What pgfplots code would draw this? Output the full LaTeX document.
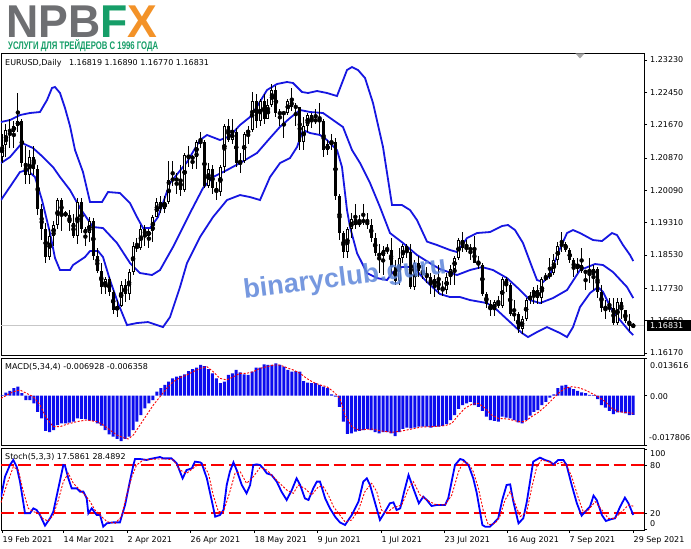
\documentclass[border=0pt]{standalone}
\usepackage{fontspec}
\setmainfont{DejaVu Sans}
\newfontfamily\lsans{Liberation Sans}
\usepackage{graphicx}
\usepackage{pgfplots}
\usepackage{pgfplotstable}
\pgfplotsset{compat=1.18}

\definecolor{bbblue}{RGB}{22,22,225}
\definecolor{histblue}{RGB}{12,12,238}
\definecolor{lvlred}{RGB}{250,0,0}
\definecolor{npgray}{RGB}{110,111,114}
\definecolor{npgreen}{RGB}{22,158,104}
\definecolor{nporange}{RGB}{243,146,40}
\definecolor{wmblue}{RGB}{95,135,218}

% EURUSD daily candles, bar index 0 = 19 Feb 2021 ... 159 = 29 Sep 2021
\pgfplotstableread{
i O H L C
0 1.2090 1.2145 1.2075 1.2118
1 1.2118 1.2170 1.2090 1.2155
2 1.2155 1.2180 1.2110 1.2150
3 1.2150 1.2175 1.2110 1.2165
4 1.2165 1.2243 1.2150 1.2175
5 1.2175 1.2182 1.2065 1.2075
6 1.2075 1.2115 1.2025 1.2045
7 1.2045 1.2105 1.2025 1.2090
8 1.2090 1.2115 1.2045 1.2060
9 1.2060 1.2070 1.1950 1.1965
10 1.1965 1.1975 1.1890 1.1915
11 1.1915 1.1930 1.1835 1.1848
12 1.1848 1.1915 1.1840 1.1900
13 1.1900 1.1935 1.1875 1.1925
14 1.1925 1.1990 1.1915 1.1985
15 1.1985 1.1990 1.1910 1.1950
16 1.1952 1.1958 1.1945 1.1950
17 1.1950 1.1962 1.1910 1.1930
18 1.1930 1.1952 1.1895 1.1900
19 1.1900 1.1990 1.1880 1.1980
20 1.1980 1.1990 1.1905 1.1915
21 1.1915 1.1920 1.1875 1.1905
22 1.1905 1.1945 1.1885 1.1935
23 1.1935 1.1942 1.1840 1.1850
24 1.1850 1.1870 1.1810 1.1815
25 1.1815 1.1835 1.1760 1.1775
26 1.1775 1.1800 1.1760 1.1795
27 1.1795 1.1800 1.1755 1.1765
28 1.1765 1.1770 1.1712 1.1720
29 1.1720 1.1745 1.1704 1.1730
30 1.1730 1.1790 1.1728 1.1780
31 1.1780 1.1795 1.1740 1.1760
32 1.1760 1.1820 1.1745 1.1812
33 1.1812 1.1885 1.1805 1.1875
34 1.1875 1.1895 1.1860 1.1870
35 1.1870 1.1925 1.1865 1.1915
36 1.1915 1.1925 1.1875 1.1900
37 1.1900 1.1915 1.1870 1.1910
38 1.1910 1.1950 1.1885 1.1945
39 1.1945 1.1990 1.1945 1.1980
40 1.1980 1.1995 1.1955 1.1965
41 1.1965 1.1995 1.1955 1.1980
42 1.1980 1.2080 1.1975 1.2035
43 1.2035 1.2080 1.2020 1.2035
44 1.2035 1.2050 1.2000 1.2035
45 1.2035 1.2070 1.1995 1.2010
46 1.2010 1.2100 1.2005 1.2095
47 1.2095 1.2115 1.2065 1.2085
48 1.2085 1.2095 1.2060 1.2090
49 1.2090 1.2130 1.2060 1.2125
50 1.2125 1.2150 1.2110 1.2125
51 1.2125 1.2130 1.2015 1.2020
52 1.2020 1.2075 1.2015 1.2060
53 1.2060 1.2070 1.2000 1.2015
54 1.2015 1.2030 1.1985 1.2005
55 1.2005 1.2070 1.1995 1.2065
56 1.2065 1.2170 1.2050 1.2165
57 1.2165 1.2180 1.2125 1.2130
58 1.2130 1.2180 1.2120 1.2150
59 1.2150 1.2160 1.2065 1.2075
60 1.2075 1.2100 1.2050 1.2080
61 1.2080 1.2150 1.2075 1.2145
62 1.2145 1.2165 1.2120 1.2155
63 1.2155 1.2245 1.2150 1.2225
64 1.2225 1.2240 1.2160 1.2175
65 1.2175 1.2230 1.2165 1.2225
66 1.2225 1.2240 1.2170 1.2180
67 1.2180 1.2230 1.2180 1.2215
68 1.2215 1.2266 1.2210 1.2250
69 1.2250 1.2260 1.2185 1.2195
70 1.2195 1.2205 1.2165 1.2195
71 1.2195 1.2200 1.2135 1.2195
72 1.2195 1.2230 1.2190 1.2225
73 1.2225 1.2255 1.2200 1.2210
74 1.2210 1.2220 1.2165 1.2210
75 1.2210 1.2210 1.2105 1.2125
76 1.2125 1.2185 1.2105 1.2165
77 1.2165 1.2195 1.2150 1.2190
78 1.2190 1.2195 1.2160 1.2175
79 1.2175 1.2205 1.2170 1.2180
80 1.2180 1.2220 1.2145 1.2175
81 1.2175 1.2180 1.2090 1.2105
82 1.2105 1.2130 1.2095 1.2120
83 1.2120 1.2145 1.2105 1.2125
84 1.2125 1.2135 1.1985 1.1995
85 1.1995 1.2000 1.1890 1.1905
86 1.1905 1.1910 1.1847 1.1860
87 1.1860 1.1920 1.1845 1.1915
88 1.1915 1.1955 1.1895 1.1940
89 1.1940 1.1975 1.1915 1.1925
90 1.1925 1.1950 1.1920 1.1935
91 1.1935 1.1975 1.1925 1.1935
92 1.1935 1.1955 1.1915 1.1925
93 1.1925 1.1940 1.1885 1.1895
94 1.1895 1.1905 1.1850 1.1857
95 1.1857 1.1880 1.1810 1.1850
96 1.1850 1.1875 1.1805 1.1865
97 1.1865 1.1880 1.1855 1.1865
98 1.1865 1.1895 1.1805 1.1825
99 1.1825 1.1840 1.1780 1.1790
100 1.1790 1.1870 1.1780 1.1845
101 1.1845 1.1880 1.1835 1.1875
102 1.1875 1.1880 1.1845 1.1860
103 1.1860 1.1880 1.1772 1.1775
104 1.1775 1.1840 1.1770 1.1835
105 1.1835 1.1850 1.1800 1.1815
106 1.1815 1.1830 1.1795 1.1805
107 1.1805 1.1825 1.1785 1.1800
108 1.1800 1.1810 1.1760 1.1780
109 1.1780 1.1805 1.1752 1.1795
110 1.1795 1.1830 1.1760 1.1770
111 1.1770 1.1790 1.1755 1.1770
112 1.1770 1.1810 1.1760 1.1800
113 1.1800 1.1830 1.1780 1.1820
114 1.1820 1.1850 1.1780 1.1845
115 1.1845 1.1895 1.1840 1.1890
116 1.1890 1.1908 1.1860 1.1870
117 1.1870 1.1890 1.1860 1.1870
118 1.1870 1.1880 1.1840 1.1865
119 1.1865 1.1900 1.1835 1.1835
120 1.1835 1.1850 1.1820 1.1830
121 1.1830 1.1835 1.1755 1.1760
122 1.1760 1.1765 1.1725 1.1735
123 1.1735 1.1745 1.1705 1.1720
124 1.1720 1.1745 1.1705 1.1740
125 1.1740 1.1755 1.1725 1.1730
126 1.1730 1.1800 1.1725 1.1795
127 1.1795 1.1800 1.1765 1.1780
128 1.1780 1.1785 1.1705 1.1710
129 1.1710 1.1745 1.1695 1.1710
130 1.1710 1.1715 1.1665 1.1675
131 1.1675 1.1705 1.1664 1.1700
132 1.1700 1.1750 1.1695 1.1745
133 1.1745 1.1765 1.1735 1.1755
134 1.1755 1.1775 1.1735 1.1770
135 1.1770 1.1780 1.1735 1.1750
136 1.1750 1.1800 1.1735 1.1795
137 1.1795 1.1810 1.1790 1.1800
138 1.1800 1.1845 1.1795 1.1810
139 1.1810 1.1855 1.1805 1.1840
140 1.1840 1.1885 1.1830 1.1875
141 1.1875 1.1909 1.1860 1.1880
142 1.1880 1.1885 1.1860 1.1865
143 1.1865 1.1870 1.1835 1.1840
144 1.1840 1.1845 1.1800 1.1820
145 1.1820 1.1845 1.1810 1.1830
146 1.1830 1.1870 1.1810 1.1815
147 1.1815 1.1815 1.1770 1.1810
148 1.1810 1.1845 1.1785 1.1805
149 1.1805 1.1830 1.1770 1.1820
150 1.1820 1.1825 1.1750 1.1765
151 1.1765 1.1780 1.1715 1.1725
152 1.1725 1.1745 1.1700 1.1727
153 1.1727 1.1750 1.1715 1.1725
154 1.1725 1.1750 1.1685 1.1690
155 1.1690 1.1750 1.1685 1.1740
156 1.1740 1.1750 1.1700 1.1720
157 1.1720 1.1720 1.1690 1.1695
158 1.1695 1.1710 1.1670 1.1682
159 1.16819 1.16890 1.16770 1.16831
}\candles

% MACD(5,34,4) histogram
\pgfplotstableread{
i v
0 0.0002
1 0.0011
2 0.0017
3 0.0027
4 0.0033
5 0.0009
6 -0.0016
7 -0.0016
8 -0.0028
9 -0.0058
10 -0.0082
11 -0.0127
12 -0.0132
13 -0.0124
14 -0.0106
15 -0.0100
16 -0.0100
17 -0.0097
18 -0.0094
19 -0.0082
20 -0.0084
21 -0.0085
22 -0.0090
23 -0.0091
24 -0.0100
25 -0.0108
26 -0.0124
27 -0.0140
28 -0.0148
29 -0.0156
30 -0.0164
31 -0.0156
32 -0.0148
33 -0.0124
34 -0.0094
35 -0.0070
36 -0.0046
37 -0.0028
38 -0.0016
39 0.0015
40 0.0027
41 0.0039
42 0.0051
43 0.0063
44 0.0069
45 0.0072
46 0.0077
47 0.0089
48 0.0096
49 0.0101
50 0.0111
51 0.0107
52 0.0096
53 0.0081
54 0.0063
55 0.0045
56 0.0051
57 0.0075
58 0.0081
59 0.0093
60 0.0084
61 0.0077
62 0.0075
63 0.0087
64 0.0101
65 0.0101
66 0.0113
67 0.0111
68 0.0111
69 0.0117
70 0.0111
71 0.0105
72 0.0093
73 0.0087
74 0.0089
75 0.0087
76 0.0053
77 0.0047
78 0.0045
79 0.0045
80 0.0039
81 0.0033
82 0.0027
83 0.0005
84 -0.0003
85 -0.0040
86 -0.0094
87 -0.0138
88 -0.0136
89 -0.0130
90 -0.0127
91 -0.0124
92 -0.0120
93 -0.0124
94 -0.0132
95 -0.0136
96 -0.0132
97 -0.0132
98 -0.0136
99 -0.0146
100 -0.0132
101 -0.0120
102 -0.0115
103 -0.0118
104 -0.0115
105 -0.0112
106 -0.0112
107 -0.0112
108 -0.0115
109 -0.0112
110 -0.0112
111 -0.0109
112 -0.0103
113 -0.0088
114 -0.0070
115 -0.0048
116 -0.0034
117 -0.0028
118 -0.0022
119 -0.0034
120 -0.0040
121 -0.0055
122 -0.0076
123 -0.0088
124 -0.0091
125 -0.0094
126 -0.0076
127 -0.0079
128 -0.0082
129 -0.0088
130 -0.0096
131 -0.0100
132 -0.0088
133 -0.0072
134 -0.0058
135 -0.0052
136 -0.0034
137 -0.0022
138 -0.0007
139 0.0005
140 0.0027
141 0.0036
142 0.0039
143 0.0030
144 0.0024
145 0.0017
146 0.0012
147 0.0009
148 0.0003
149 0.0002
150 -0.0012
151 -0.0034
152 -0.0043
153 -0.0055
154 -0.0067
155 -0.0060
156 -0.0060
157 -0.0064
158 -0.0070
159 -0.006928
}\macdhist

\pgfplotsset{
  pane/.style={
    scale only axis, width=643pt, anchor=north west,
    clip bounding box=upper bound,
    xmin=-0.252, xmax=161.71,
    axis line style={black, line width=0.9pt},
    tick align=outside, major tick length=3pt,
    tick style={black, line width=0.6pt},
    xtick=\empty, ytick pos=right,
    yticklabels={}, xticklabels={},
    scaled y ticks=false,
  },
  wick/.style={only marks, mark=none, forget plot,
    error bars/.cd, y dir=both, y explicit, error mark=none,
    error bar style={black, line width=1pt}},
  body/.style={only marks, mark=none, forget plot,
    error bars/.cd, y dir=both, y explicit, error mark=none,
    error bar style={black, line width=3pt}},
  hollow/.style={only marks, mark=none, forget plot, unbounded coords=discard,
    error bars/.cd, y dir=both, y explicit, error mark=none,
    error bar style={white, line width=1pt}},
}

\begin{document}
\begin{tikzpicture}[x=1pt,y=1pt]
\path[use as bounding box] (0,0) rectangle (691,549);
\fill[white] (0,0) rectangle (691,549);

% ---------------- price pane ----------------
\begin{axis}[pane, at={(1pt,496pt)}, height=302pt,
  ymin=1.16122, ymax=1.23399,
  ytick={1.1617,1.1695,1.1773,1.1853,1.1931,1.2009,1.2087,1.2167,1.2245,1.2323}]
\addplot[black!22, line width=0.8pt, forget plot] coordinates {(-0.252,1.16831) (161.71,1.16831)};
% Bollinger bands
\addplot[bbblue, line width=1.8pt] coordinates {
(-0.25,1.21736) (2.02,1.21784) (4.53,1.21904) (7.05,1.21953) (9.57,1.21977) (11.34,1.22266)
(12.59,1.22555) (13.35,1.22579) (14.61,1.22435) (15.87,1.22073) (17.13,1.21640) (18.39,1.21061)
(20.40,1.20531) (22.17,1.19808) (25.19,1.19808) (26.70,1.20049) (29.72,1.20025) (32.24,1.19784)
(34.0,1.19446) (35.52,1.19181) (37.28,1.19181) (39.29,1.19446) (42.32,1.20266) (46.60,1.20772)
(49.87,1.21302) (51.64,1.21423) (54.91,1.21302) (57.43,1.21398) (59.95,1.21664) (62.47,1.21856)
(64.48,1.22146) (66.75,1.22507) (69.27,1.22652) (71.79,1.22700) (73.30,1.22676) (75.57,1.22459)
(77.08,1.22435) (79.35,1.22483) (81.86,1.22435) (84.38,1.22362) (85.64,1.22676) (86.90,1.22989)
(88.16,1.23061) (89.67,1.22989) (91.44,1.22796) (93.45,1.22194) (95.97,1.21133) (98.24,1.19735)
(100.76,1.19735) (102.77,1.19615) (104.53,1.19374) (107.05,1.18854) (109.57,1.18772) (112.85,1.18651)
(114.61,1.18603) (117.13,1.18940) (119.65,1.19061) (122.92,1.19085) (125.94,1.19230) (127.46,1.19254)
(129.22,1.19133) (131.23,1.18820) (133.50,1.18241) (134.76,1.17928) (136.27,1.17880) (138.04,1.18049)
(140.05,1.18579) (142.32,1.19061) (143.83,1.19133) (145.59,1.19061) (148.87,1.18892) (151.13,1.18868)
(153.65,1.19061) (154.91,1.19012) (156.42,1.18772) (158.19,1.18531) (159,1.18386)};
\addplot[bbblue, line width=1.8pt] coordinates {
(-0.25,1.20748) (2.02,1.20892) (5.04,1.21230) (7.81,1.21109) (10.33,1.20892) (12.85,1.20651)
(14.61,1.20410) (17.13,1.20097) (19.65,1.19663) (22.92,1.19205) (25.44,1.19181) (28.97,1.18820)
(32.24,1.18338) (34.76,1.18097) (37.78,1.18049) (39.80,1.18169) (43.07,1.18723) (47.36,1.19543)
(50.63,1.20145) (53.15,1.20411) (56.68,1.20579) (59.95,1.20748) (64.23,1.20989) (67.51,1.21350)
(70.03,1.21620) (72.54,1.21832) (75.06,1.22025) (77.58,1.21977) (80.86,1.21953) (83.38,1.21784)
(85.89,1.21615) (88.16,1.21061) (90.18,1.20748) (92.70,1.20266) (95.21,1.19687) (97.73,1.19061)
(101.01,1.18820) (104.53,1.18531) (108.56,1.18290) (110.33,1.18193) (114.61,1.18049) (117.88,1.18169)
(120.91,1.18241) (123.68,1.18169) (127.20,1.17976) (130.48,1.17687) (132.99,1.17446) (135.51,1.17373)
(138.79,1.17494) (142.32,1.17687) (145.59,1.18169) (149.37,1.18314) (151.39,1.18290) (153.90,1.18121)
(157.43,1.17759) (159,1.17494)};
\addplot[bbblue, line width=1.8pt] coordinates {
(-0.25,1.19856) (4.53,1.20531) (6.30,1.20579) (8.31,1.20410) (10.08,1.19856) (12.09,1.19061)
(13.35,1.18458) (14.61,1.18169) (17.13,1.18169) (17.88,1.18290) (20.91,1.18483) (22.17,1.18627)
(24.18,1.18627) (25.44,1.18483) (27.20,1.17928) (29.22,1.17374) (31.49,1.16844) (34.0,1.16892)
(36.78,1.16916) (40.55,1.16795) (42.32,1.17036) (44.84,1.17759) (46.60,1.18338) (49.87,1.18964)
(53.15,1.19446) (56.68,1.19856) (59.95,1.19976) (62.47,1.19928) (64.99,1.19856) (67.51,1.20410)
(70.03,1.20748) (72.54,1.20868) (74.31,1.21133) (75.82,1.21543) (77.58,1.21471) (80.10,1.21423)
(81.86,1.21302) (84.38,1.21061) (85.64,1.20651) (86.40,1.20025) (86.90,1.19615) (87.66,1.19205)
(89.42,1.18579) (91.94,1.18097) (94.46,1.17976) (96.98,1.17928) (98.49,1.18121) (100.76,1.18241)
(103.53,1.18241) (107.05,1.17880) (110.33,1.17591) (112.85,1.17518) (115.37,1.17518) (117.88,1.17446)
(122.17,1.17373) (124.69,1.17205) (127.96,1.16916) (130.98,1.16651) (132.49,1.16554) (134.76,1.16675)
(137.28,1.16795) (140.55,1.16651) (142.32,1.16554) (143.83,1.16795) (145.59,1.17277) (148.11,1.17615)
(150.13,1.17759) (151.39,1.17639) (153.65,1.17205) (155.67,1.16964) (158.19,1.16675) (159,1.16603)};
% candles: wicks, bodies, hollow interiors of up candles
\addplot[wick] table[x=i, y expr={0.5*(\thisrow{H}+\thisrow{L})},
  y error expr={0.5*(\thisrow{H}-\thisrow{L})}]{\candles};
\addplot[body] table[x=i, y expr={0.5*(\thisrow{O}+\thisrow{C})},
  y error expr={max(0.5*abs(\thisrow{C}-\thisrow{O}),0.00012)}]{\candles};
\addplot[hollow] table[x=i,
  y expr={\thisrow{C}>\thisrow{O}+0.0005 ? 0.5*(\thisrow{O}+\thisrow{C}) : nan},
  y error expr={0.5*(\thisrow{C}-\thisrow{O})-0.00024}]{\candles};
\end{axis}

% ---------------- MACD pane ----------------
\begin{axis}[pane, at={(1pt,191pt)}, height=87pt,
  ymin=-0.017806, ymax=0.013616, ytick={-0.017806,0,0.013616}]
\addplot[ybar, bar width=3pt, fill=histblue, draw=none] table[x=i, y=v]{\macdhist};
\addplot[lvlred, line width=0.9pt, dash pattern=on 2pt off 1.6pt] coordinates {
(-0.25,-0.00095) (2.85,0.00146) (4.53,0.00206) (6.21,0.00085) (7.89,-0.00035) (9.57,-0.00336)
(11.25,-0.00818) (12.93,-0.01118) (14.61,-0.01118) (16.29,-0.01034) (18.81,-0.00938) (21.33,-0.00878)
(23.85,-0.00938) (25.52,-0.01058) (27.2,-0.01239) (28.88,-0.01419) (30.56,-0.01516) (31.82,-0.01564)
(33.08,-0.01419) (34.76,-0.01058) (36.44,-0.00697) (38.12,-0.00336) (39.8,-0.00035) (41.48,0.00266)
(43.16,0.00507) (44.84,0.00651) (46.52,0.00748) (48.2,0.00868) (49.9,0.00988) (51.6,0.01049)
(53.2,0.00868) (54.9,0.00627) (56.6,0.00567) (58.3,0.00687) (59.95,0.00808) (61.6,0.00808)
(63.3,0.00868) (65.0,0.00988) (66.7,0.01049) (68.4,0.01109) (70.0,0.01109) (71.7,0.01012)
(73.4,0.00928) (75.1,0.00808) (76.7,0.00627) (78.4,0.00483) (80.1,0.00386) (81.8,0.00326)
(83.5,0.00146) (85.1,-0.00095) (86.4,-0.00697) (88.1,-0.01118) (89.8,-0.01239) (93.1,-0.01203)
(95.6,-0.01275) (98.2,-0.01323) (100.7,-0.01275) (103.2,-0.01203) (105.7,-0.01130) (108.2,-0.01118)
(111.6,-0.01082) (113.3,-0.00998) (115.0,-0.00697) (116.6,-0.00456) (118.3,-0.00312) (120.0,-0.00276)
(121.7,-0.00456) (123.3,-0.00697) (125.0,-0.00818) (127.5,-0.00843) (130.1,-0.00938) (131.7,-0.00938)
(133.4,-0.00757) (135.1,-0.00601) (136.8,-0.00396) (138.5,-0.00155) (140.1,0.00085) (141.8,0.00266)
(143.5,0.00326) (145.2,0.00290) (146.9,0.00206) (148.5,0.00085) (150.2,-0.00035) (151.9,-0.00215)
(153.6,-0.00456) (155.3,-0.00578) (156.9,-0.00602) (159,-0.006358)};
\end{axis}

% ---------------- Stochastic pane ----------------
\begin{axis}[pane, at={(1pt,101pt)}, height=82pt,
  ymin=-1.25, ymax=101.25, ytick={0,20,80,100},
  xtick={0,15.37,31.49,47.36,63.48,79.35,95.47,111.34,127.2,142.8,158.9},
  xtick pos=bottom]
\addplot[draw=lvlred, line width=1.1pt, dash pattern=on 12.7pt off 4.8pt] coordinates {(-0.252,80) (161.71,80)};
\addplot[draw=lvlred, line width=1.1pt, dash pattern=on 12.7pt off 4.8pt] coordinates {(-0.252,20) (161.71,20)};
\addplot[blue, line width=1.8pt] coordinates {
(-0.25,40) (0.76,65.4) (2.0,80) (2.85,86.3) (3.7,77.9) (4.53,59.2) (5.8,19.6) (7.05,19.6)
(7.9,25.8) (8.73,23.75) (9.57,17.5) (10.83,4.2) (12.09,13.3) (12.93,21.7) (14.19,50.8) (15.45,80)
(15.87,79.2) (16.71,63.3) (17.55,50.8) (18.8,50.8) (19.65,46.7) (20.49,46.7) (21.33,38.3) (21.75,19.6)
(22.6,25.8) (23.85,17.5) (24.7,17.5) (25.5,2.9) (26.4,7.1) (28.0,8.3) (29.7,8.3) (31.0,30)
(32.2,59.2) (33.1,80) (33.5,87.5) (34.8,87.5) (36.4,86.3) (37.3,87.5) (39.0,89.2) (39.8,90)
(40.6,88.3) (42.7,88.3) (44.0,82.1) (45.5,63.3) (46.5,73.75) (47.8,75.8) (48.6,84.2) (49.9,83.3)
(50.3,82.1) (51.6,63.3) (52.8,36.25) (53.7,15.4) (54.9,17.5) (55.8,23.75) (56.6,55) (57.4,71.7)
(58.3,83.3) (59.1,73.75) (60.4,55) (61.6,44.6) (62.5,55) (63.3,80) (64.2,80.8) (65.0,80)
(65.8,75.8) (66.7,69.6) (67.9,67.5) (69.2,59.2) (70.4,46.7) (71.7,36.25) (73.0,48.75) (74.2,63.3)
(75.1,55) (76.3,38.3) (77.2,36.25) (78.4,50.8) (79.3,59.2) (80.1,59.2) (81.4,38.3) (82.6,25.8)
(83.9,15.4) (85.1,8.3) (86.4,5) (88.1,17.5) (89.8,34.2) (91.0,59.2) (91.9,63.3) (92.7,55)
(94.0,32.1) (95.2,11.25) (96.5,21.7) (97.7,32.1) (98.6,33.3) (99.4,23.75) (100.3,25.8) (101.3,46.7)
(102.4,67.5) (103.6,50.8) (105.0,32.1) (106.1,40.4) (107.0,36.25) (108.2,28.75) (109.5,30) (111.6,30)
(112.4,38.3) (114.1,80) (115.4,87.5) (116.2,86.25) (117.5,80) (118.7,63.3) (119.6,44.6) (120.4,21.7)
(121.0,5) (121.7,2.9) (122.9,2.9) (123.8,7.1) (125.0,13.3) (126.0,36.25) (127.1,55) (128.0,55.8)
(128.8,34.2) (130.1,7.1) (131.3,13.3) (132.2,34.2) (133.0,59.2) (133.8,84.2) (135.5,89.2) (136.8,86.25)
(138.0,84.2) (138.9,80.8) (140.1,86.25) (141.4,86.25) (142.2,80) (143.5,55) (144.8,32.1) (146.0,16.7)
(146.9,21.7) (148.1,27.9) (149.0,41.7) (149.8,36.25) (151.1,17.5) (152.1,10) (153.6,12.5) (154.4,13.3)
(155.7,27.9) (156.9,39.2) (157.8,32.1) (159.0,17.5861)};
\addplot[lvlred, line width=0.9pt, dash pattern=on 2pt off 1.6pt] coordinates {
(-0.25,33) (1.18,55) (2.85,77.9) (4.11,73.75) (5.37,46.7) (6.63,25.8) (7.89,21.7) (9.15,19.6)
(10.41,12.5) (11.67,10) (12.93,17.5) (14.19,36.25) (15.45,59.2) (16.71,69.6) (17.97,57.1) (19.65,48.75)
(20.9,42.5) (22.2,34.2) (23.4,23.75) (24.7,17.5) (26.4,9.2) (28.5,7.1) (30.1,15.4) (31.4,42.5)
(32.7,65.4) (33.9,80) (35.6,86.25) (39.0,87.5) (41.5,87.5) (43.2,86.25) (44.8,73.75) (46.5,69.6)
(49.0,79.2) (50.7,80) (52.0,69.6) (53.2,42.5) (54.5,21.7) (55.8,21.7) (57.4,46.7) (58.7,69.6)
(60.0,71.7) (61.6,57.1) (63.3,65.4) (65.0,76.7) (66.7,73.75) (68.3,65.4) (70.0,57.1) (71.7,48.75)
(73.4,44.6) (74.6,55) (76.3,50.8) (78.0,42.5) (79.7,52.9) (80.9,52.9) (82.2,42.5) (83.5,27.9)
(85.1,17.5) (86.4,9) (88.1,11.25) (89.8,23.75) (91.4,46.7) (93.1,57.1) (94.4,46.7) (95.6,23.75)
(96.9,19.6) (98.2,25.8) (99.4,27.9) (100.7,30) (102.4,50.8) (103.6,59.2) (105.3,42.5) (107.0,36.25)
(109.1,30.8) (111.6,30) (113.3,42.5) (115.0,71.7) (116.2,84.2) (117.5,82.1) (118.7,71.7) (120.0,50.8)
(121.2,23.75) (122.5,5) (124.2,7.1) (125.4,15.4) (126.7,36.25) (128.0,46.7) (129.2,32.1) (130.5,15.4)
(132.2,21.7) (133.4,50.8) (134.7,77.9) (135.9,86.25) (137.6,84.2) (139.3,80.8) (141.0,83.3) (142.2,80)
(143.5,65.4) (145.2,38.3) (146.4,21.7) (147.7,23.75) (149.4,34.2) (151.1,23.75) (152.7,13.3) (154.4,13.3)
(156.1,21.7) (157.8,30) (159.0,28.4892)};
\end{axis}

% ---------------- text ----------------
\begin{scope}[every node/.style={inner sep=0pt, font=\fontsize{8}{9}\selectfont}]
\node[anchor=west] at (5,486) {EURUSD,Daily\hspace{5pt} 1.16819 1.16890 1.16770 1.16831};
\node[anchor=west] at (5,182) {MACD(5,34,4) -0.006928 -0.006358};
\node[anchor=west] at (5,92) {Stoch(5,3,3) 17.5861 28.4892};
% price scale
\foreach \yy/\lab in {489/1.23230, 456.6/1.22450, 424.3/1.21670, 391.1/1.20870, 358.7/1.20090,
  326.3/1.19310, 294.0/1.18530, 260.8/1.17730, 228.4/1.16950, 196.0/1.16170}
  \node[anchor=west] at (650,\yy) {\lab};
\fill[black] (647,218) rectangle (691,228.5);
\node[anchor=west, text=white] at (650,223.2) {1.16831};
% MACD scale
\node[anchor=west] at (650,183) {0.013616};
\node[anchor=west] at (650,152) {0.00};
\node[anchor=west] at (649,111) {-0.017806};
% Stoch scale
\node[anchor=west] at (650,95) {100};
\node[anchor=west] at (650,83) {80};
\node[anchor=west] at (650,35) {20};
\node[anchor=west] at (650,25) {0};
% dates
\foreach \xx/\lab in {2/19 Feb 2021, 63/14 Mar 2021, 127/2 Apr 2021, 190/26 Apr 2021,
  254/18 May 2021, 317/9 Jun 2021, 381/1 Jul 2021, 444/23 Jul 2021, 507/16 Aug 2021,
  569/7 Sep 2021, 633/29 Sep 2021}
  \node[anchor=west] at (\xx+0.5,9) {\lab};
\end{scope}

% shift marker
\fill[black!35] (575.5,495.5) -- (584.5,495.5) -- (580,490.5) -- cycle;

% watermark
\node[rotate=7, text=wmblue, opacity=0.85, inner sep=0pt] at (345,270)
  {\lsans\bfseries\fontsize{27}{27}\selectfont binaryclub.guru};

% logo
\node[anchor=base west, inner sep=0pt] at (6,511)
  {\lsans\bfseries\fontsize{46}{46}\selectfont\scalebox{0.97}[1]{\textcolor{npgray}{NPB}\textcolor{npgreen}{F}\textcolor{nporange}{X}}};
\node[anchor=base west, inner sep=0pt] at (8,499)
  {\lsans\bfseries\fontsize{11}{11}\selectfont\scalebox{0.705}[1]{\textcolor{npgreen}{УСЛУГИ ДЛЯ ТРЕЙДЕРОВ С 1996 ГОДА}}};
\end{tikzpicture}
\end{document}
